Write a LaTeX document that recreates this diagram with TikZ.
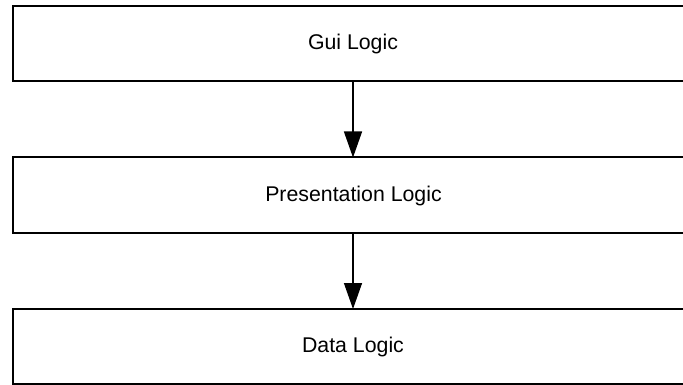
\documentclass[tikz,border=0pt]{standalone}
\usepackage{fontspec}
\setmainfont{Liberation Sans}
\usetikzlibrary{arrows.meta}
\begin{document}
\begin{tikzpicture}[x=1pt,y=-1pt,
  layer/.style={draw=black,line width=2pt,fill=white},
  lbl/.style={font=\fontsize{21.3}{25}\selectfont,inner sep=0pt},
  flow/.style={line width=1.4pt,-{Triangle[length=26pt,width=18pt]}}]
\useasboundingbox (0,0) rectangle (683,385);
\draw[layer] (13,6) rectangle (690,81.5);
\draw[layer] (13,157.5) rectangle (690,233);
\draw[layer] (13,309) rectangle (690,384);
\node[lbl] (gui) at (353,44) {Gui Logic};
\node[lbl] (pres) at (353.5,195.5) {Presentation Logic};
\node[lbl] (data) at (353,347) {Data Logic};
\coordinate (a1) at (353,81.5);
\coordinate (b1) at (353,157.5);
\coordinate (a2) at (353,233);
\coordinate (b2) at (353,309);
\draw[flow] (a1) -- (b1);
\draw[flow] (a2) -- (b2);
\end{tikzpicture}
\end{document}
